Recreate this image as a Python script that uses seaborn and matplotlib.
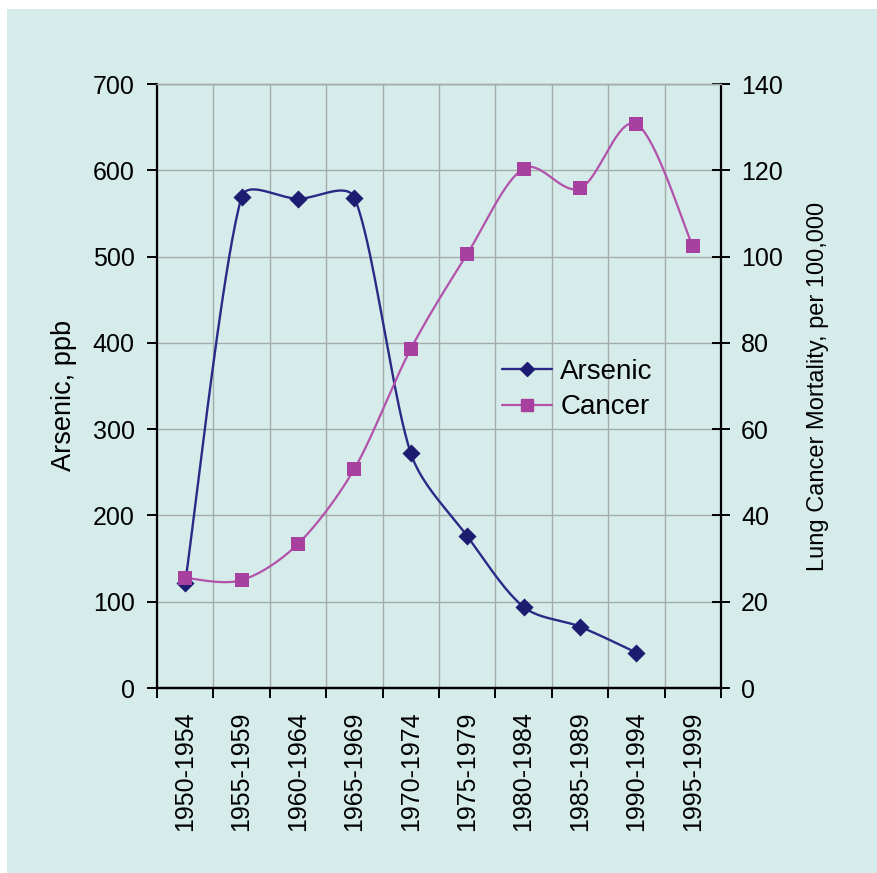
import numpy as np
import pandas as pd
import matplotlib
matplotlib.use("Agg")
import matplotlib.pyplot as plt
from matplotlib.lines import Line2D
from matplotlib.patches import Rectangle
import seaborn as sns

periods = ["1950-1954", "1955-1959", "1960-1964", "1965-1969", "1970-1974",
           "1975-1979", "1980-1984", "1985-1989", "1990-1994", "1995-1999"]
arsenic = [122, 569, 567, 568, 272, 176, 94, 71, 41, np.nan]
cancer = [25.5, 25.0, 33.4, 50.8, 78.6, 100.6, 120.4, 115.8, 130.7, 102.4]
left_ticks = [0, 100, 200, 300, 400, 500, 600, 700]
right_ticks = [0, 20, 40, 60, 80, 100, 120, 140]

BG = "#d5ecea"
ARS_LINE = "#2a2a86"
ARS_MARK = "#1c1c70"
CAN_LINE = "#b252aa"
CAN_MARK = "#a8409f"
GRID = "#a4acaa"

sns.set_theme(style="white")
plt.rcParams["font.family"] = ["Liberation Sans", "DejaVu Sans"]
plt.rcParams.update({"text.color": "black", "axes.labelcolor": "black",
                     "xtick.color": "black", "ytick.color": "black"})

# plot-area size in pixels, used so the smoothing behaves like a screen-space spline
W_PX, H_PX = 564.0, 604.0


def smooth(xs, ys, ymax, n=40):
    """Excel-like smoothed line through the data points (Bezier, screen space)."""
    xs = np.asarray(xs, float)
    ys = np.asarray(ys, float)
    m = ~np.isnan(ys)
    kx = W_PX / len(periods)
    ky = H_PX / ymax
    P = np.column_stack([xs[m] * kx, ys[m] * ky])
    k = len(P)
    out = []
    for i in range(k - 1):
        p0 = P[max(i - 1, 0)]
        p1 = P[i]
        p2 = P[i + 1]
        p3 = P[min(i + 2, k - 1)]
        L = np.linalg.norm(p2 - p1)
        d1 = p2 - p0
        n1 = np.linalg.norm(d1)
        d2 = p3 - p1
        n2 = np.linalg.norm(d2)
        b1 = p1 + d1 / n1 * min(n1 / 6.0, L / 3.0)
        b2 = p2 - d2 / n2 * min(n2 / 6.0, L / 3.0)
        t = np.linspace(0, 1, n)[:, None]
        seg = ((1 - t) ** 3) * p1 + 3 * ((1 - t) ** 2) * t * b1 + 3 * (1 - t) * t ** 2 * b2 + t ** 3 * p2
        out.append(seg if i == 0 else seg[1:])
    C = np.vstack(out)
    return C[:, 0] / kx, C[:, 1] / ky


df = pd.DataFrame({"period": periods, "x": np.arange(len(periods)),
                   "arsenic": arsenic, "cancer": cancer})

fig = plt.figure(figsize=(8.78, 8.73), dpi=100, facecolor="white")
fig.patches.append(Rectangle((7 / 878, 0), 1 - 7 / 878, 1 - 9 / 873,
                             transform=fig.transFigure, facecolor=BG,
                             edgecolor="none", zorder=-10))
ax = fig.add_axes([157 / 878, 1 - 688 / 873, W_PX / 878, H_PX / 873])
ax.set_facecolor(BG)
ax2 = ax.twinx()
ax2.patch.set_visible(False)

# Arsenic (left axis)
sx, sy = smooth(df["x"], df["arsenic"], 700)
ax.plot(sx, sy, color=ARS_LINE, lw=1.7, zorder=3)
sns.scatterplot(data=df, x="x", y="arsenic", ax=ax, marker="D", s=85,
                color=ARS_MARK, edgecolor=ARS_MARK, linewidth=0, zorder=4, legend=False)

# Cancer (right axis)
cx, cy = smooth(df["x"], df["cancer"], 140)
ax2.plot(cx, cy, color=CAN_LINE, lw=1.6, zorder=3)
sns.scatterplot(data=df, x="x", y="cancer", ax=ax2, marker="s", s=95,
                color=CAN_MARK, edgecolor=CAN_MARK, linewidth=0, zorder=4, legend=False)

for a in (ax, ax2):
    a.set_xlim(-0.5, len(periods) - 0.5)
ax.set_ylim(0, 700)
ax2.set_ylim(0, 140)

ax.set_yticks(left_ticks)
ax.set_yticklabels([str(v) for v in left_ticks], fontsize=18)
ax2.set_yticks(right_ticks)
ax2.set_yticklabels([str(v) for v in right_ticks], fontsize=18)

ax.set_xticks(np.arange(len(periods)))
ax.set_xticklabels(periods, rotation=90, fontsize=18)
ax.set_xticks(np.arange(len(periods) + 1) - 0.5, minor=True)
ax.tick_params(axis="x", which="major", length=0, pad=17, labelcolor="black")
ax.tick_params(axis="x", which="minor", length=7, width=1.4, color="black", direction="out", bottom=True)
ax.tick_params(axis="y", which="major", length=7, width=1.4, color="black", direction="out", left=True, pad=9, labelcolor="black")
ax2.tick_params(axis="y", which="major", length=13, width=1.4, color="black", direction="inout", right=True, pad=8, labelcolor="black")
ax2.tick_params(axis="x", which="both", bottom=False, top=False, labelbottom=False)

ax.grid(False)
ax2.grid(False)
ax.yaxis.grid(True, color=GRID, lw=1.0, zorder=0)
ax.xaxis.grid(True, which="minor", color=GRID, lw=1.0, zorder=0)
ax.set_axisbelow(True)

for a in (ax, ax2):
    for s in ("left", "right", "bottom"):
        a.spines[s].set_color("black")
        a.spines[s].set_linewidth(1.6)
    a.spines["top"].set_color(GRID)
    a.spines["top"].set_linewidth(1.0)
ax.spines["right"].set_visible(False)
ax2.spines["left"].set_visible(False)

ax.set_xlabel("")
ax.set_ylabel("Arsenic, ppb", fontsize=19.5, color="black")
ax.yaxis.set_label_coords(-0.165, 0.485)
ax.yaxis.label.set(va="center", ha="center", rotation_mode="default")
ax2.set_ylabel("Lung Cancer Mortality, per 100,000", fontsize=17, color="black")
ax2.yaxis.set_label_coords((818 - 157) / W_PX, (688 - 386) / H_PX)
ax2.yaxis.label.set(va="center", ha="center", rotation_mode="default")

handles = [
    Line2D([], [], color=ARS_LINE, lw=1.7, marker="D", markersize=7,
           markerfacecolor=ARS_MARK, markeredgecolor=ARS_MARK),
    Line2D([], [], color=CAN_LINE, lw=1.6, marker="s", markersize=8,
           markerfacecolor=CAN_MARK, markeredgecolor=CAN_MARK),
]
leg = ax2.legend(handles, ["Arsenic", "Cancer"], loc="center left",
                 bbox_to_anchor=((502 - 157) / W_PX, (688 - 389.5) / H_PX),
                 frameon=False, fontsize=20, handlelength=1.8, handletextpad=0.3,
                 labelspacing=0.35, borderpad=0, borderaxespad=0)
for t in leg.get_texts():
    t.set_color("black")

fig.savefig("out.png", dpi=100, facecolor="white")
